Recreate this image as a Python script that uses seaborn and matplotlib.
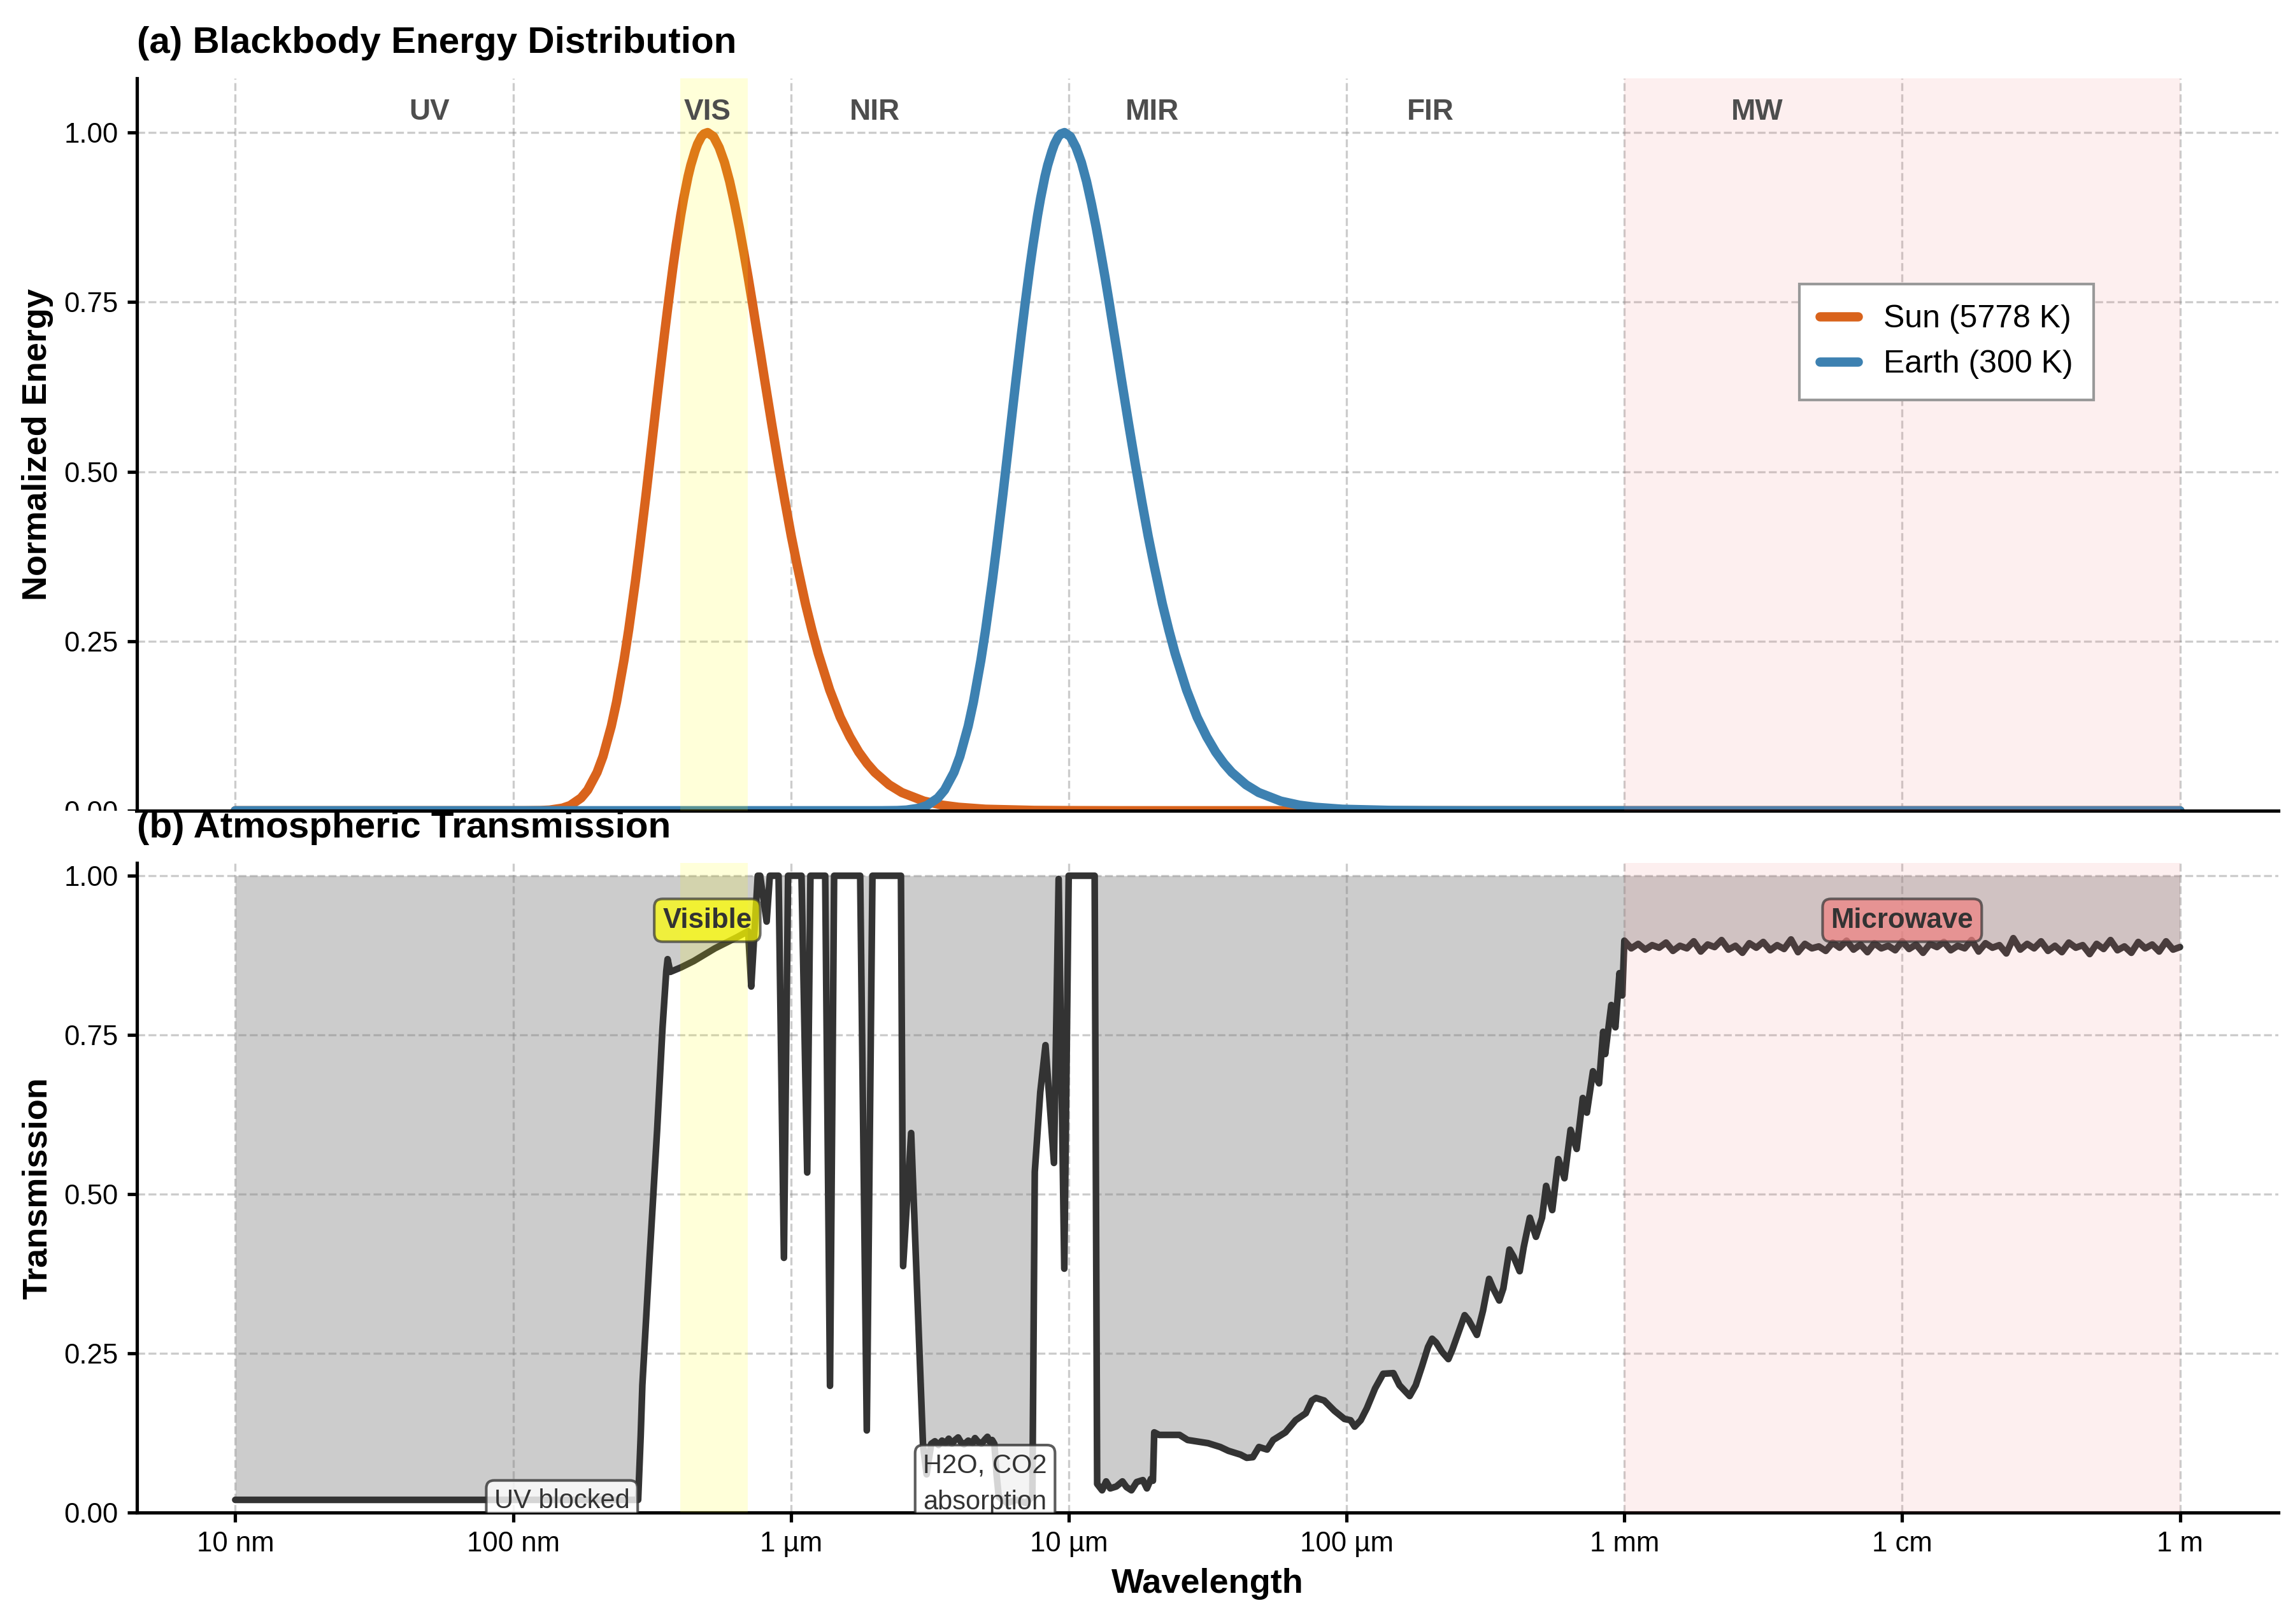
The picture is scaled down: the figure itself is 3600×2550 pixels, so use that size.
import numpy as np
import matplotlib
matplotlib.use("Agg")
import matplotlib.pyplot as plt
import seaborn as sns
from matplotlib.patches import Rectangle
from matplotlib.ticker import FixedLocator, NullLocator

sns.set_style("ticks")
plt.rcParams["font.family"] = ["Liberation Sans", "DejaVu Sans"]
plt.rcParams["axes.edgecolor"] = "black"
plt.rcParams["axes.linewidth"] = 1.25
plt.rcParams["text.color"] = "black"
plt.rcParams["axes.labelcolor"] = "black"
plt.rcParams["xtick.color"] = "black"
plt.rcParams["ytick.color"] = "black"

# ---- data: blackbody curves (normalized), wavelength in micrometres ----
sun_wl_um = [0.01,
             0.1003, 0.1104, 0.1254, 0.1354, 0.1505, 0.1605, 0.1756, 0.1856, 0.2006, 0.2107,
             0.2257, 0.2358, 0.2508, 0.2608, 0.2759, 0.2859, 0.3010, 0.3110, 0.3260, 0.3361,
             0.3511, 0.3612, 0.3762, 0.3862, 0.4013, 0.4113, 0.4264, 0.4364, 0.4514, 0.4615,
             0.4765, 0.4866, 0.5016, 0.5267, 0.5518, 0.5768, 0.6019, 0.6270, 0.6521, 0.6772,
             0.7022, 0.7273, 0.7524, 0.7775, 0.8026, 0.8527, 0.9029, 0.9530, 1.0032, 1.0534,
             1.1286, 1.1913, 1.254, 1.3794, 1.5048, 1.6302, 1.7556, 1.881, 2.0064, 2.2572,
             2.508, 3.0096, 3.5112, 4.0128, 5.016, 7.524, 10.032, 15.048, 25.08,
             1e5]
sun_energy = [0.0,
              0.0, 0.00004, 0.0003, 0.0010, 0.0038, 0.0077, 0.0187, 0.0305, 0.0565, 0.0800,
              0.1246, 0.1603, 0.222, 0.267, 0.3395, 0.390, 0.466, 0.517, 0.591, 0.638,
              0.704, 0.745, 0.801, 0.834, 0.878, 0.903, 0.935, 0.952, 0.972, 0.983,
              0.994, 0.998, 1.0, 0.994, 0.978, 0.956, 0.928, 0.895, 0.860, 0.823,
              0.786, 0.748, 0.710, 0.674, 0.638, 0.571, 0.510, 0.455, 0.405, 0.362,
              0.305, 0.266, 0.232, 0.178, 0.138, 0.109, 0.0865, 0.0696, 0.0565, 0.0383,
              0.0268, 0.0142, 0.0082, 0.0051, 0.0022, 0.0005, 0.0002, 0.00003, 0.0,
              0.0]

earth_wl_um = [0.01,
               1.932, 2.125, 2.415, 2.608, 2.898, 3.091, 3.381, 3.574, 3.864, 4.057,
               4.347, 4.540, 4.830, 5.023, 5.313, 5.506, 5.796, 5.989, 6.279, 6.472,
               6.762, 6.955, 7.245, 7.438, 7.728, 7.921, 8.211, 8.404, 8.694, 8.887,
               9.177, 9.370, 9.66, 10.143, 10.626, 11.109, 11.592, 12.075, 12.558, 13.041,
               13.524, 14.007, 14.49, 14.973, 15.456, 16.422, 17.388, 18.354, 19.32, 20.286,
               21.735, 22.943, 24.15, 26.565, 28.98, 31.395, 33.81, 36.225, 38.64, 43.47,
               48.3, 57.96, 67.62, 77.28, 96.6, 144.9, 193.2, 289.8, 483.0,
               1e5]
earth_energy = [0.0,
                0.0, 0.00004, 0.0003, 0.0010, 0.0038, 0.0077, 0.0187, 0.0305, 0.0565, 0.0800,
                0.1246, 0.1603, 0.222, 0.267, 0.3395, 0.390, 0.466, 0.517, 0.591, 0.638,
                0.704, 0.745, 0.801, 0.834, 0.878, 0.903, 0.935, 0.952, 0.972, 0.983,
                0.994, 0.998, 1.0, 0.994, 0.978, 0.956, 0.928, 0.895, 0.860, 0.823,
                0.786, 0.748, 0.710, 0.674, 0.638, 0.571, 0.510, 0.455, 0.405, 0.362,
                0.305, 0.266, 0.232, 0.178, 0.138, 0.109, 0.0865, 0.0696, 0.0565, 0.0383,
                0.0268, 0.0142, 0.0082, 0.0051, 0.0022, 0.0005, 0.0002, 0.00003, 0.0,
                0.0]

# ---- data: atmospheric transmission, UV to FIR (micrometres) ----
optical_wl_um = [
    0.01, 0.282, 0.288, 0.292, 0.31, 0.33, 0.345, 0.356, 0.360, 0.368,
    0.402, 0.447, 0.533, 0.637, 0.7015, 0.720, 0.760, 0.775, 0.818, 0.840,
    0.903, 0.944, 0.977, 1.092, 1.145, 1.176, 1.329, 1.383, 1.431, 1.776,
    1.876, 1.966, 2.49, 2.535, 2.71, 2.99, 3.08, 3.2, 3.3, 3.4,
    3.5, 3.6, 3.7, 3.8, 3.9, 4.0, 4.1, 4.2, 4.35, 4.5,
    4.6, 4.7, 4.85, 5.0, 5.1, 5.2, 5.3, 5.4, 5.5, 5.6,
    6.0, 6.5, 7.0, 7.4, 7.55, 7.9, 8.25, 8.85, 9.2, 9.64,
    10.0, 12.4, 12.66, 13.19, 13.64, 14.11, 14.84, 15.61, 16.15, 16.82,
    17.57, 18.49, 19.12, 19.78, 20.1, 20.32, 21.16, 25.06, 26.8, 31.73,
    35.12, 37.57, 41.57, 43.73, 46.01, 48.4, 51.78, 54.46, 60.27, 65.57,
    71.35, 75.05, 77.62, 83.07, 90.36, 98.33, 103.4, 106.98, 112.5, 118.4,
    126.7, 135.5, 147.5, 155.1, 168.8, 177.5, 186.7, 196.5, 203.3, 210.2,
    221.1, 232.6, 240.5, 253.0, 266.2, 275.4, 294.6, 309.9, 326.0, 337.2,
    354.7, 366.8, 385.9, 399.2, 420.0, 434.4, 456.9, 480.7, 505.6, 523.0,
    550.2, 578.7, 608.8, 640.4, 673.6, 708.6, 733.0, 771.0, 811.1, 839.0,
    853.3, 897.6, 928.5, 960.3, 983.3]
optical_trans = [
    0.02, 0.02, 0.12, 0.20, 0.40, 0.60, 0.76, 0.85, 0.869, 0.849,
    0.856, 0.866, 0.886, 0.903, 0.913, 0.826, 1.0, 1.0, 0.928, 1.0,
    1.0, 0.40, 1.0, 1.0, 0.534, 1.0, 1.0, 0.199, 1.0, 1.0,
    0.129, 1.0, 1.0, 0.387, 0.596, 0.105, 0.06, 0.108, 0.112, 0.106,
    0.113, 0.109, 0.116, 0.108, 0.114, 0.118, 0.110, 0.107, 0.113, 0.109,
    0.117, 0.112, 0.108, 0.115, 0.119, 0.111, 0.114, 0.108, 0.06, 0.025,
    0.015, 0.02, 0.015, 0.025, 0.535, 0.66, 0.734, 0.549, 0.995, 0.383,
    1.0, 1.0, 0.045, 0.035, 0.049, 0.038, 0.041, 0.049, 0.040, 0.035,
    0.048, 0.051, 0.038, 0.053, 0.05, 0.126, 0.122, 0.122, 0.114, 0.109,
    0.103, 0.097, 0.091, 0.086, 0.087, 0.103, 0.099, 0.114, 0.126, 0.145,
    0.156, 0.176, 0.18, 0.176, 0.16, 0.147, 0.145, 0.135, 0.145, 0.164,
    0.195, 0.218, 0.219, 0.2, 0.183, 0.2, 0.229, 0.26, 0.273, 0.267,
    0.252, 0.241, 0.256, 0.283, 0.31, 0.302, 0.279, 0.317, 0.367, 0.352,
    0.333, 0.352, 0.413, 0.402, 0.379, 0.417, 0.463, 0.433, 0.463, 0.513,
    0.475, 0.555, 0.525, 0.601, 0.571, 0.651, 0.628, 0.693, 0.674, 0.755,
    0.72, 0.797, 0.762, 0.847, 0.812]

# ---- data: atmospheric transmission, microwave (millimetres) ----
mw_wl_mm = [
    1.000, 1.059, 1.122, 1.189, 1.259, 1.334, 1.413, 1.496, 1.585, 1.679,
    1.778, 1.884, 1.995, 2.113, 2.239, 2.371, 2.512, 2.661, 2.818, 2.985,
    3.162, 3.350, 3.548, 3.758, 3.981, 4.217, 4.467, 4.732, 5.012, 5.309,
    5.623, 5.957, 6.310, 6.683, 7.079, 7.499, 7.943, 8.414, 8.913, 9.441,
    10.00, 10.59, 11.22, 11.89, 12.59, 13.34, 14.13, 14.96, 15.85, 16.79,
    17.78, 18.84, 19.95, 21.13, 22.39, 23.71, 25.12, 26.61, 28.18, 29.85,
    31.62, 33.50, 35.48, 37.58, 39.81, 42.17, 44.67, 47.32, 50.12, 53.09,
    56.23, 59.57, 63.10, 66.83, 70.79, 74.99, 79.43, 84.14, 89.13, 94.41,
    100.0]
mw_trans = [
    0.898, 0.886, 0.893, 0.884, 0.891, 0.887, 0.895, 0.882, 0.890, 0.886,
    0.897, 0.881, 0.892, 0.888, 0.899, 0.884, 0.890, 0.879, 0.894, 0.887,
    0.896, 0.883, 0.891, 0.885, 0.900, 0.880, 0.893, 0.886, 0.889, 0.882,
    0.895, 0.887, 0.898, 0.884, 0.892, 0.880, 0.894, 0.886, 0.890, 0.883,
    0.897, 0.885, 0.892, 0.879, 0.893, 0.888, 0.896, 0.883, 0.890, 0.886,
    0.899, 0.881, 0.894, 0.887, 0.891, 0.878, 0.902, 0.884, 0.893, 0.886,
    0.897, 0.882, 0.890, 0.880, 0.895, 0.887, 0.891, 0.877, 0.893, 0.885,
    0.899, 0.883, 0.889, 0.879, 0.896, 0.886, 0.892, 0.881, 0.897, 0.884,
    0.888]

# ---- labels ----
tick_pos_m = [1e-8, 1e-7, 1e-6, 1e-5, 1e-4, 1e-3, 1e-2, 1e-1]
tick_labels = ["10 nm", "100 nm", "1 µm", "10 µm", "100 µm", "1 mm", "1 cm", "1 m"]
band_names = ["UV", "VIS", "NIR", "MIR", "FIR", "MW"]
band_pos_m = [5e-8, 5e-7, 2e-6, 2e-5, 2e-4, 3e-3]

sun_color = "#d9631c"
earth_color = "#3d81b1"

# convert to metres
sun_wl = np.array(sun_wl_um) * 1e-6
earth_wl = np.array(earth_wl_um) * 1e-6
trans_wl = np.concatenate([np.array(optical_wl_um) * 1e-6, np.array(mw_wl_mm) * 1e-3])
trans = np.concatenate([optical_trans, mw_trans])

fig = plt.figure(figsize=(12, 8.5), dpi=300)
ax1 = fig.add_axes([0.0597, 0.5008, 0.9339, 0.451])
ax2 = fig.add_axes([0.0597, 0.0686, 0.9339, 0.400], sharex=ax1)

# ---------- (a) blackbody ----------
sns.lineplot(x=sun_wl, y=sun_energy, ax=ax1, color=sun_color, lw=3.5,
             label="Sun (5778 K)", zorder=2)
sns.lineplot(x=earth_wl, y=earth_energy, ax=ax1, color=earth_color, lw=3.5,
             label="Earth (300 K)", zorder=2)
ax1.axvspan(400e-9, 700e-9, color="yellow", alpha=0.15, lw=0, zorder=3)
ax1.axvspan(1e-3, 1e-1, color="lightcoral", alpha=0.12, lw=0, zorder=3)
for name, pos in zip(band_names, band_pos_m):
    ax1.text(pos, 1.03, name, ha="center", va="center", fontsize=11,
             fontweight="bold", color="#4d4d4d", zorder=5)
ax1.set_ylim(0, 1.08)
ax1.set_ylabel("Normalized Energy", fontsize=13, fontweight="bold")
ax1.set_title("(a) Blackbody Energy Distribution", loc="left", fontsize=14,
              fontweight="bold", pad=9.5)
leg = ax1.legend(loc="center", bbox_to_anchor=(0.845, 0.64), fontsize=12,
                 frameon=True, fancybox=False, edgecolor="#999999", framealpha=1,
                 handlelength=1.2, borderpad=0.65)
leg.get_frame().set_linewidth(1.0)

# ---------- (b) transmission ----------
ax2.fill_between(trans_wl, trans, 1, color="gray", alpha=0.4, lw=0, zorder=1)
sns.lineplot(x=trans_wl, y=trans, ax=ax2, color="#333333", lw=2.5, zorder=2)
ax2.axvspan(400e-9, 700e-9, color="yellow", alpha=0.15, lw=0, zorder=3)
ax2.axvspan(1e-3, 1e-1, color="lightcoral", alpha=0.12, lw=0, zorder=3)
ax2.text(1.5e-7, 0.018, "UV blocked", ha="center", va="center", fontsize=10,
         color="#333333", zorder=6, clip_on=True,
         bbox=dict(boxstyle="round,pad=0.3", facecolor="white",
                   edgecolor="#333333", alpha=0.8))
ax2.text(5e-6, 0.045, "H2O, CO2\nabsorption", ha="center", va="center", fontsize=10,
         color="#333333", zorder=6, clip_on=True, linespacing=1.55,
         bbox=dict(boxstyle="round,pad=0.3", facecolor="white",
                   edgecolor="#333333", alpha=0.8))
ax2.text(5e-7, 0.93, "Visible", ha="center", va="center", fontsize=10.5,
         fontweight="bold", color="#333333", zorder=6,
         bbox=dict(boxstyle="round,pad=0.3", facecolor="yellow",
                   edgecolor="#333333", alpha=0.7))
ax2.text(1e-2, 0.93, "Microwave", ha="center", va="center", fontsize=10.5,
         fontweight="bold", color="#333333", zorder=6,
         bbox=dict(boxstyle="round,pad=0.3", facecolor="lightcoral",
                   edgecolor="#333333", alpha=0.7))
ax2.set_ylim(0, 1.02)
ax2.set_ylabel("Transmission", fontsize=13, fontweight="bold")
ax2.set_xlabel("Wavelength", fontsize=13, fontweight="bold")
ax2.set_title("(b) Atmospheric Transmission", loc="left", fontsize=14,
              fontweight="bold", pad=9.5)

# ---------- shared axis styling ----------
ax2.set_xscale("log")
ax2.set_xlim(10 ** -8.354, 10 ** -0.646)
ax2.xaxis.set_major_locator(FixedLocator(tick_pos_m))
ax2.xaxis.set_minor_locator(NullLocator())
ax2.set_xticklabels(tick_labels)
yt = [0, 0.25, 0.5, 0.75, 1.0]
for ax in (ax1, ax2):
    ax.set_yticks(yt)
    ax.set_yticklabels([f"{v:.2f}" for v in yt])
    ax.grid(True, which="major", ls="--", lw=0.8, color="gray", alpha=0.4)
    ax.tick_params(axis="both", which="major", labelsize=10.5, length=3.5,
                   width=1.25, direction="out")
    sns.despine(ax=ax)
ax1.tick_params(axis="x", which="both", bottom=False, labelbottom=False)

# top panel was cut off right at its bottom edge in the original picture
fig.add_artist(Rectangle((0, 1 - 1355 / 2550), 212 / 3600, (1355 - 1273) / 2550,
                         transform=fig.transFigure, facecolor="white",
                         edgecolor="none", zorder=10))

fig.savefig("out.png", dpi=300)
